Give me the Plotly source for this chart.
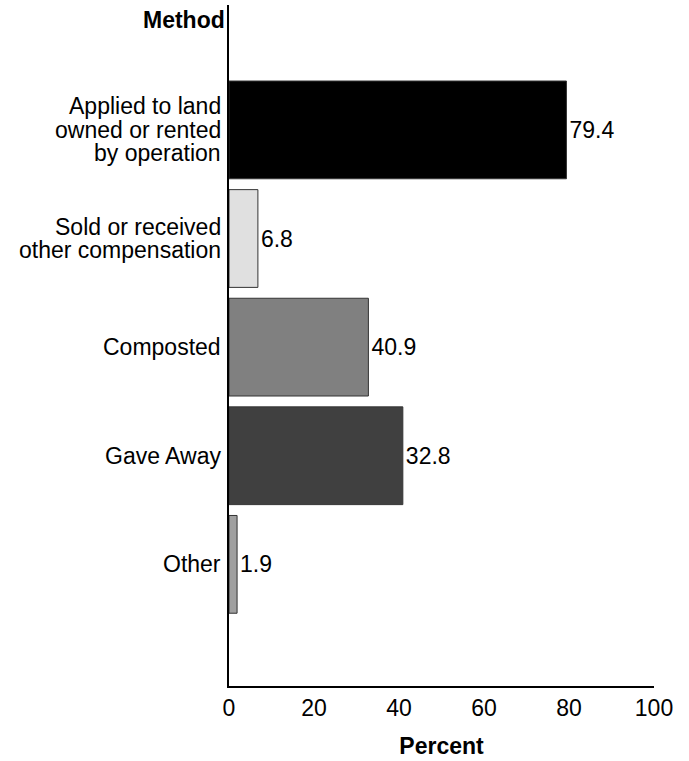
import plotly.graph_objects as go

categories = [
    "Applied to land\nowned or rented\nby operation",
    "Sold or received\nother compensation",
    "Composted",
    "Gave Away",
    "Other",
]
bar_values = [79.4, 6.8, 32.8, 40.9, 1.9]
bar_labels = ["79.4", "6.8", "40.9", "32.8", "1.9"]
bar_colors = ["#000000", "#e0e0e0", "#808080", "#404040", "#a0a0a0"]
x_ticks = [0, 20, 40, 60, 80, 100]

positions = list(range(len(categories)))
FONT = "Liberation Sans, Arial, sans-serif"
FS = 23
LINE_H = 23.5

fig = go.Figure()
fig.add_trace(go.Bar(
    y=positions,
    x=bar_values,
    orientation="h",
    width=0.9,
    marker=dict(color=bar_colors, line=dict(color="#333333", width=1)),
    text=bar_labels,
    textposition="outside",
    textfont=dict(family=FONT, size=FS, color="#000000"),
    cliponaxis=False,
    hoverinfo="skip",
))

annotations = []
for pos, cat in zip(positions, categories):
    lines = cat.split("\n")
    n = len(lines)
    for j, line in enumerate(lines):
        annotations.append(dict(
            text=line, xref="paper", yref="y", x=0, y=pos,
            xanchor="right", yanchor="middle", xshift=-6,
            yshift=-(j - (n - 1) / 2) * LINE_H,
            showarrow=False, font=dict(family=FONT, size=FS, color="#000000"),
        ))
annotations.append(dict(
    text="<b>Method</b>", xref="paper", yref="paper", x=0, y=1,
    xanchor="right", yanchor="middle", xshift=-2, yshift=-15,
    showarrow=False, font=dict(family=FONT, size=FS, color="#000000"),
))

fig.update_layout(
    width=689, height=761,
    margin=dict(l=229, r=35, t=5, b=75),
    paper_bgcolor="white", plot_bgcolor="white",
    showlegend=False,
    font=dict(family=FONT, size=FS, color="#000000"),
    xaxis=dict(
        range=[0, 100], tickvals=x_ticks, ticks="", showgrid=False, zeroline=False,
        showline=True, linecolor="#000000", linewidth=2,
        tickfont=dict(size=FS), automargin=False,
        title=dict(text="<b>Percent</b>", font=dict(size=FS), standoff=18),
    ),
    yaxis=dict(
        range=[5.12, -1.15], tickvals=positions, showticklabels=False,
        ticks="", showgrid=False, zeroline=False, automargin=False,
        showline=True, linecolor="#000000", linewidth=2,
    ),
    annotations=annotations,
)

fig.write_html("out.html", config={"displayModeBar": False})
with open("out.html", "r", encoding="utf-8") as f:
    html = f.read()
html = html.replace("<head>", "<head><style>html,body{margin:0;padding:0;overflow:hidden;}</style>", 1)
with open("out.html", "w", encoding="utf-8") as f:
    f.write(html)
